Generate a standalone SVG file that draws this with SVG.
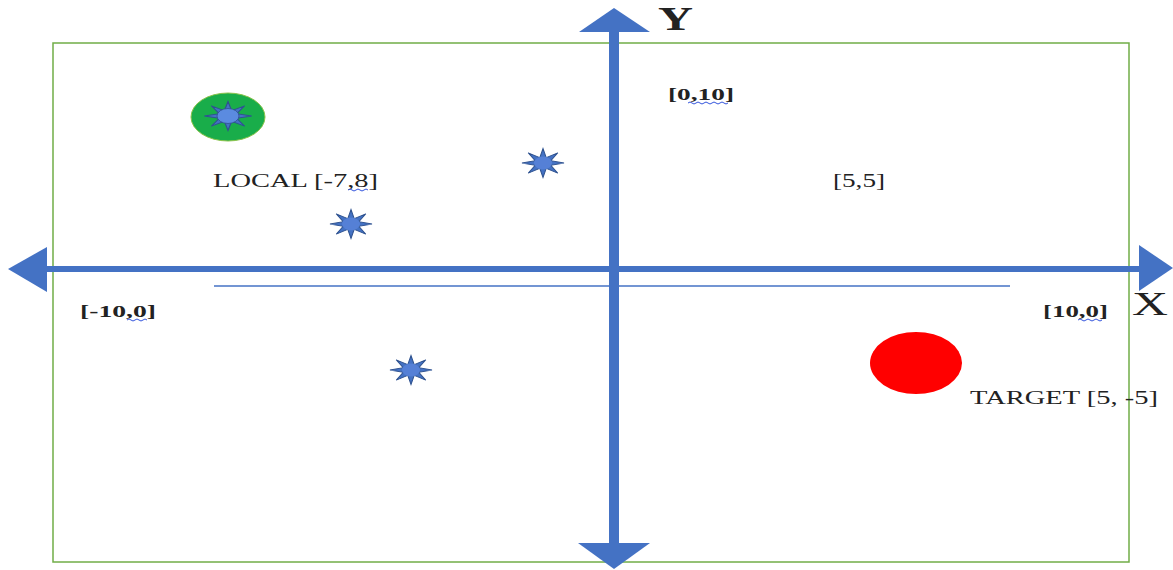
<svg xmlns="http://www.w3.org/2000/svg" width="1173" height="570" viewBox="0 0 1173 570">
<style>
.lbl{font-family:"Liberation Serif","Times New Roman",serif;fill:#222;}
.b{font-weight:bold;}
.ax{fill:#4472C4;}
.sq{fill:none;stroke:#3355dd;stroke-width:1;}
</style>
<defs>
<path id="star" d="M20,0 L7.39,2.6 L14.14,12 L3.06,6.28 L0,17 L-3.06,6.28 L-14.14,12 L-7.39,2.6 L-20,0 L-7.39,-2.6 L-14.14,-12 L-3.06,-6.28 L0,-17 L3.06,-6.28 L14.14,-12 L7.39,-2.6 Z" fill="#4472C4" stroke="#2F528F" stroke-width="1"/>
</defs>
<rect width="1173" height="570" fill="#fff"/>
<g id="frame">
<rect x="53" y="43" width="1076" height="519" fill="none" stroke="#70AD47" stroke-width="1.5"/>
</g>
<g id="connectors">
<line x1="214" y1="286" x2="1010" y2="286" stroke="#4472C4" stroke-width="1.5"/>
<rect class="ax" x="44" y="266" width="1098" height="6"/>
<polygon class="ax" points="8,269 47,247 47,292"/>
<polygon class="ax" points="1173,268 1139,245 1139,291"/>
<rect class="ax" x="609" y="28" width="10" height="518"/>
<polygon class="ax" points="614,8 579,32 650,32"/>
<polygon class="ax" points="614,569 578,543 650,543"/>
</g>
<g id="local">
<ellipse cx="228" cy="117" rx="37" ry="24" fill="#19AD4A" stroke="#8BC34A" stroke-width="1"/>
<use href="#star" transform="translate(228,116) scale(1.18,0.85)"/>
<ellipse cx="228" cy="116" rx="11" ry="7.5" fill="#5B8BE0" stroke="#2F528F" stroke-width="0.8"/>
</g>
<g id="star1">
<use href="#star" transform="translate(543,163) scale(1.05,0.85)"/>
<ellipse cx="543" cy="163" rx="9" ry="6.5" fill="#5580D6"/>
</g>
<g id="star2">
<use href="#star" transform="translate(351,224) scale(1.05,0.85)"/>
<ellipse cx="351" cy="224" rx="9" ry="6.5" fill="#5580D6"/>
</g>
<g id="star3">
<use href="#star" transform="translate(411,370) scale(1.05,0.85)"/>
<ellipse cx="411" cy="370" rx="9" ry="6.5" fill="#5580D6"/>
</g>
<g id="target">
<ellipse cx="916" cy="363" rx="46" ry="31" fill="#FF0000"/>
</g>
<g id="labels">
<text class="lbl b" x="658" y="30" font-size="33" textLength="35" lengthAdjust="spacingAndGlyphs">Y</text>
<text class="lbl" x="1132" y="315" font-size="33" textLength="36" lengthAdjust="spacingAndGlyphs">X</text>
<text class="lbl b" x="668" y="100" font-size="17" textLength="66" lengthAdjust="spacingAndGlyphs">[0,10]</text>
<text class="lbl" x="213" y="187" font-size="19" textLength="165" lengthAdjust="spacingAndGlyphs">LOCAL [-7,8]</text>
<text class="lbl" x="833" y="187" font-size="19" textLength="52" lengthAdjust="spacingAndGlyphs">[5,5]</text>
<text class="lbl b" x="80" y="317" font-size="17" textLength="76" lengthAdjust="spacingAndGlyphs">[-10,0]</text>
<text class="lbl b" x="1043" y="317" font-size="17" textLength="65" lengthAdjust="spacingAndGlyphs">[10,0]</text>
<text class="lbl" x="970" y="404" font-size="19" textLength="188" lengthAdjust="spacingAndGlyphs">TARGET [5, -5]</text>
</g>
<g id="squiggles">
<path class="sq" d="M348,190 q2,-2 4,0 t4,0 t4,0 t4,0 t4,0"/>
<path class="sq" d="M688,103 q2,-2 4,0 t4,0 t4,0 t4,0 t4,0 t4,0 t4,0 t4,0 t4,0 t4,0"/>
<path class="sq" d="M127,320 q2,-2 4,0 t4,0 t4,0 t4,0 t4,0"/>
<path class="sq" d="M1078,320 q2,-2 4,0 t4,0 t4,0 t4,0 t4,0 t4,0"/>
</g>
</svg>
